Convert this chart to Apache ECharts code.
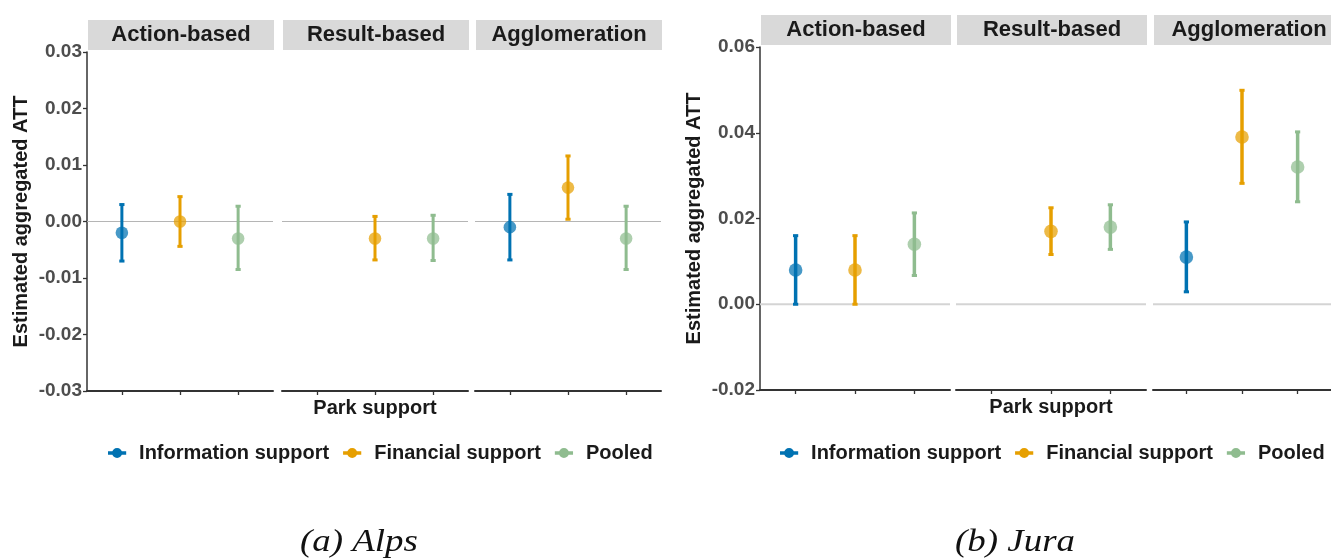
<!DOCTYPE html>
<html>
<head>
<meta charset="utf-8">
<script src="https://cdn.jsdelivr.net/npm/echarts@6/dist/echarts.min.js"></script>
<style>
  html, body { margin: 0; padding: 0; background: #ffffff; }
  #chart { width: 1331px; height: 560px; }
</style>
</head>
<body>
<div id="chart"></div>
<script>
// ---- data -------------------------------------------------------------
const facets = ['Action-based', 'Result-based', 'Agglomeration'];
const groups = ['Information support', 'Financial support', 'Pooled'];
const groupColors = ['#0072B2', '#E69F00', '#8FBC8F'];

// one row per facet, one column per group (null = not estimated)
const alpsEstimate = [[-0.002, 0.000, -0.003], [null, -0.003, -0.003], [-0.001, 0.006, -0.003]];
const alpsLower    = [[-0.0070, -0.0044, -0.0085], [null, -0.0068, -0.0069], [-0.0068, 0.0004, -0.0085]];
const alpsUpper    = [[0.0030, 0.0044, 0.0027], [null, 0.0009, 0.0011], [0.0048, 0.0116, 0.0027]];

const juraEstimate = [[0.008, 0.008, 0.014], [null, 0.017, 0.018], [0.011, 0.039, 0.032]];
const juraLower    = [[0.0000, 0.0000, 0.0067], [null, 0.0116, 0.0128], [0.0029, 0.0282, 0.0239]];
const juraUpper    = [[0.0160, 0.0160, 0.0213], [null, 0.0225, 0.0232], [0.0192, 0.0499, 0.0402]];

const alpsTicks = { min: -0.03, max: 0.03, interval: 0.01 };
const juraTicks = { min: -0.02, max: 0.06, interval: 0.02 };

const captions = ['(a) Alps', '(b) Jura'];
const yTitle = 'Estimated aggregated ATT';
const xTitle = 'Park support';

// ---- layout -----------------------------------------------------------
const SANS = '"Liberation Sans", Arial, sans-serif';
const SERIF = '"Liberation Serif", "Times New Roman", serif';

const panels = [
  { caption: captions[0], est: alpsEstimate, lo: alpsLower, hi: alpsUpper, ticks: alpsTicks,
    lefts: [87, 282, 475], width: 186, top: 52, height: 339, stripTop: 20,
    yTitleX: 21, legendLeft: 108, captionX: 359, barW: 3, dotR: 6.3, zeroColor: '#b5b5b5', zeroW: 1.2 },
  { caption: captions[1], est: juraEstimate, lo: juraLower, hi: juraUpper, ticks: juraTicks,
    lefts: [760, 956, 1153], width: 190, top: 47, height: 343, stripTop: 15,
    yTitleX: 694, legendLeft: 780, captionX: 1015, barW: 3.5, dotR: 6.8, zeroColor: '#d4d4d4', zeroW: 2 }
];

const grid = [], xAxis = [], yAxis = [], series = [], graphic = [], legend = [];

// legend key: a short horizontal bar with a dot on it
const legendIcon = 'path://M0,3H20V7H0Z M4.5,5A5.5,5.5 0 1 1 15.5,5A5.5,5.5 0 1 1 4.5,5Z';

function makeRender(barW, dotR) {
  return function (params, api) {
    const x = api.value(0);
    const mid = api.coord([x, api.value(1)]);
    const lo = api.coord([x, api.value(2)]);
    const hi = api.coord([x, api.value(3)]);
    const color = api.visual('color');
    const cap = 2.6;
    return {
      type: 'group',
      children: [
        { type: 'line', shape: { x1: lo[0], y1: lo[1], x2: hi[0], y2: hi[1] },
          style: { stroke: color, lineWidth: barW } },
        { type: 'line', shape: { x1: lo[0] - cap, y1: lo[1], x2: lo[0] + cap, y2: lo[1] },
          style: { stroke: color, lineWidth: 3 } },
        { type: 'line', shape: { x1: hi[0] - cap, y1: hi[1], x2: hi[0] + cap, y2: hi[1] },
          style: { stroke: color, lineWidth: 3 } },
        { type: 'circle', shape: { cx: mid[0], cy: mid[1], r: dotR },
          style: { fill: color, opacity: 0.72 } }
      ]
    };
  };
}

panels.forEach((p, pi) => {
  facets.forEach((facet, fi) => {
    const gi = grid.length;
    grid.push({ left: p.lefts[fi], top: p.top, width: p.width, height: p.height, containLabel: false });

    xAxis.push({
      gridIndex: gi, type: 'value', min: 0.4, max: 3.6,
      axisLine: { show: true, onZero: false, lineStyle: { color: '#333333', width: 2 } },
      axisTick: { show: true, customValues: [1, 2, 3], length: 4, inside: false,
                  lineStyle: { color: '#333333', width: 1.3 } },
      axisLabel: { show: false },
      splitLine: { show: false }
    });

    const first = fi === 0;
    yAxis.push({
      gridIndex: gi, type: 'value',
      min: p.ticks.min, max: p.ticks.max, interval: p.ticks.interval,
      show: first,
      axisLine: { show: true, lineStyle: { color: '#333333', width: 1.5 } },
      axisTick: { show: true, length: 4, lineStyle: { color: '#333333', width: 1.3 } },
      axisLabel: { show: true, margin: 5, color: '#4d4d4d', fontSize: 19, fontWeight: 'bold',
                   fontFamily: SANS, formatter: v => v.toFixed(2) },
      splitLine: { show: false }
    });

    // horizontal reference at zero
    series.push({
      type: 'line', name: 'zero', xAxisIndex: gi, yAxisIndex: gi, silent: true,
      data: [[0.4, 0], [3.6, 0]], symbol: 'none', z: 1,
      lineStyle: { color: p.zeroColor, width: p.zeroW }
    });

    groups.forEach((g, k) => {
      const e = p.est[fi][k];
      if (e === null) return;
      series.push({
        type: 'custom', name: g, xAxisIndex: gi, yAxisIndex: gi, z: 3,
        itemStyle: { color: groupColors[k] },
        renderItem: makeRender(p.barW, p.dotR),
        encode: { x: 0, y: [1, 2, 3] },
        data: [[k + 1, e, p.lo[fi][k], p.hi[fi][k]]]
      });
    });

    // facet strip
    graphic.push({
      type: 'rect', silent: true,
      shape: { x: p.lefts[fi] + 1, y: p.stripTop, width: p.width, height: 30 },
      style: { fill: '#d9d9d9' }
    });
    graphic.push({
      type: 'text', silent: true,
      x: p.lefts[fi] + 1 + p.width / 2, y: p.stripTop + 15,
      style: { text: facet, fontSize: 22, fontWeight: 'bold', fontFamily: SANS,
               fill: '#1a1a1a', align: 'center', verticalAlign: 'middle' }
    });
  });

  // axis titles
  graphic.push({
    type: 'text', silent: true, x: p.yTitleX, y: p.top + p.height / 2, rotation: Math.PI / 2,
    style: { text: yTitle, fontSize: 20, fontWeight: 'bold', fontFamily: SANS,
             fill: '#1a1a1a', align: 'center', verticalAlign: 'middle' }
  });
  graphic.push({
    type: 'text', silent: true, x: p.lefts[1] + p.width / 2, y: p.top + p.height + 17,
    style: { text: xTitle, fontSize: 20, fontWeight: 'bold', fontFamily: SANS,
             fill: '#1a1a1a', align: 'center', verticalAlign: 'middle' }
  });

  // panel caption
  graphic.push({
    type: 'text', silent: true, x: p.captionX, y: 543, scaleX: 1.19,
    style: { text: p.caption, fontSize: 31, fontStyle: 'italic', fontFamily: SERIF,
             fill: '#111111', align: 'center', verticalAlign: 'middle' }
  });

  legend.push({
    left: p.legendLeft, top: 443, padding: 0, orient: 'horizontal',
    data: groups.map(g => ({ name: g, icon: legendIcon })),
    itemWidth: 20, itemHeight: 10, itemGap: 14,
    selectedMode: false,
    textStyle: { fontSize: 20, fontWeight: 'bold', fontFamily: SANS, color: '#1a1a1a',
                 padding: [0, 0, 0, 7] }
  });
});

const chart = echarts.init(document.getElementById('chart'), null, { renderer: 'canvas' });
chart.setOption({
  backgroundColor: '#ffffff',
  animation: false,
  grid, xAxis, yAxis, series, legend, graphic
});
</script>
</body>
</html>
